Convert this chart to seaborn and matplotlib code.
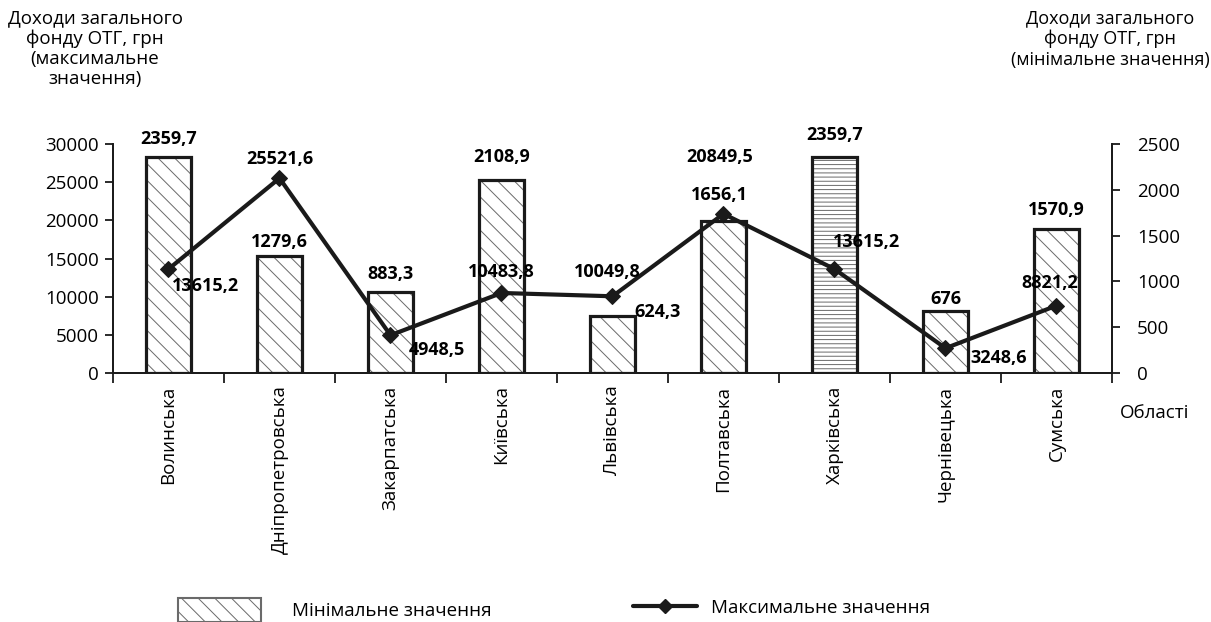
import numpy as np
import pandas as pd
import matplotlib
matplotlib.use("Agg")
import matplotlib.pyplot as plt
import seaborn as sns
from matplotlib.patches import Patch, Rectangle
from matplotlib.lines import Line2D

# ---- data ----
regions = ["Волинська", "Дніпропетровська", "Закарпатська", "Київська", "Львівська",
           "Полтавська", "Харківська", "Чернівецька", "Сумська"]
min_vals = [2359.7, 1279.6, 883.3, 2108.9, 624.3, 1656.1, 2359.7, 676, 1570.9]
max_vals = [13615.2, 25521.6, 4948.5, 10483.8, 10049.8, 20849.5, 13615.2, 3248.6, 8821.2]
min_labels = ["2359,7", "1279,6", "883,3", "2108,9", "624,3", "1656,1", "2359,7", "676", "1570,9"]
max_labels = ["13615,2", "25521,6", "4948,5", "10483,8", "10049,8", "20849,5", "13615,2", "3248,6", "8821,2"]
left_ticks = [0, 5000, 10000, 15000, 20000, 25000, 30000]
right_ticks = [0, 500, 1000, 1500, 2000, 2500]

sns.set_theme(style="white")
plt.rcParams['font.family'] = ['Open Sans', 'DejaVu Sans']
plt.rcParams['hatch.linewidth'] = 0.7
plt.rcParams['text.color'] = 'black'
plt.rcParams['xtick.color'] = 'black'
plt.rcParams['ytick.color'] = 'black'

FS = 13.5
BFS = 13
INK = "#1a1a1a"
HATCH = "#6a6a6a"
W, H = 1211, 622
fig = plt.figure(figsize=(W / 100, H / 100), dpi=100)
ax = fig.add_axes([113 / W, 1 - 373 / H, (1112 - 113) / W, (373 - 144) / H])

df = pd.DataFrame({"region": regions, "min": min_vals, "max": max_vals})

# bars (minimum values, right scale)
sns.barplot(data=df, x="region", y="min", ax=ax, color="white", edgecolor=HATCH,
            linewidth=0, width=0.41, saturation=1)
for i, p in enumerate(list(ax.patches)):
    p.set_facecolor("white")
    p.set_edgecolor(HATCH)
    p.set_linewidth(0)
    p.set_hatch("----" if i == 6 else "\\\\")
    ax.add_patch(Rectangle((p.get_x(), p.get_y()), p.get_width(), p.get_height(),
                           fill=False, edgecolor=INK, linewidth=2.3, zorder=p.get_zorder() + 0.1))

ax.set_xlim(-0.5, 8.5)
ax.set_ylim(0, 2500)
ax.set_xlabel("")
ax.set_ylabel("")
ax.set_xticks(range(len(regions)))
ax.set_xticklabels(regions, rotation=90, fontsize=FS, va="top", ha="center")
ax.set_xticks(np.arange(-0.5, len(regions), 1.0), minor=True)
ax.tick_params(axis="x", which="major", length=0, pad=9)
ax.tick_params(axis="x", which="minor", length=7, width=1.3, color=INK, direction="out", bottom=True)
ax.spines["top"].set_visible(False)
for s in ["left", "right", "bottom"]:
    ax.spines[s].set_color(INK)
    ax.spines[s].set_linewidth(1.3)

# line (maximum values, left scale)
ax2 = ax.twinx()
sns.lineplot(x=np.arange(len(regions)), y=max_vals, ax=ax2, color=INK, linewidth=3,
             marker="D", markersize=8.5, markeredgecolor=INK)
ax2.set_ylim(0, 30000)
ax2.set_xlim(-0.5, 8.5)
ax2.set_yticks(left_ticks)
ax2.yaxis.tick_left()
ax2.tick_params(axis="y", which="major", length=6, width=1.3, color=INK, direction="out",
                labelsize=FS, pad=4, left=True, right=False, labelleft=True, labelright=False)
ax2.spines["top"].set_visible(False)
for s in ["left", "right", "bottom"]:
    ax2.spines[s].set_color(INK)
    ax2.spines[s].set_linewidth(1.3)

# right axis ticks for the bars (after twinx, which resets them)
ax.set_yticks(right_ticks)
ax.yaxis.tick_right()
ax.tick_params(axis="y", which="major", length=6, width=1.3, color=INK, direction="out",
               labelsize=FS, pad=12, right=True, left=False, labelright=True, labelleft=False)

# value labels (offsets in pixels -> points)
px = 0.72
bar_off = [(0, 18), (0, 14), (0, 18), (0, 23), (45, 4), (-4, 26), (0, 22), (0, 12), (0, 19)]
for i, (v, t) in enumerate(zip(min_vals, min_labels)):
    dx, dy = bar_off[i]
    ax2.annotate(t, xy=(i, v * 12), xytext=(dx * px, dy * px), textcoords="offset points",
                 ha="center", va="center", fontsize=BFS, fontweight="bold", color="black")
line_off = [(37, -17), (0, 19), (46, -15), (0, 21), (-5, 24), (-4, 57), (32, 27), (53, -10), (-7, 23)]
for i, (v, t) in enumerate(zip(max_vals, max_labels)):
    dx, dy = line_off[i]
    ax2.annotate(t, xy=(i, v), xytext=(dx * px, dy * px), textcoords="offset points",
                 ha="center", va="center", fontsize=BFS, fontweight="bold", color="black")

# axis titles
fig.text(95 / W, 1 - 9 / H, "Доходи загального\nфонду ОТГ, грн\n(максимальне\nзначення)",
         ha="center", va="top", fontsize=FS, linespacing=1.15)
fig.text(1110 / W, 1 - 9 / H, "Доходи загального\nфонду ОТГ, грн\n(мінімальне значення)",
         ha="center", va="top", fontsize=13, linespacing=1.2)
fig.text(1155 / W, 1 - 413 / H, "Області", ha="center", va="center", fontsize=FS)

# legends
h1 = Patch(facecolor="white", edgecolor=INK, hatch="\\\\", linewidth=1.5)
leg1 = fig.legend(handles=[h1], labels=["Мінімальне значення"], loc="center left",
                  bbox_to_anchor=(178 / W, 1 - 610 / H), frameon=False, fontsize=FS,
                  handlelength=4.4, handleheight=1.6, handletextpad=1.7,
                  borderpad=0, borderaxespad=0)
for p in leg1.get_patches():
    p.set_edgecolor(HATCH)
h2 = Line2D([], [], color=INK, linewidth=3, marker="D", markersize=7)
leg2 = fig.legend(handles=[h2], labels=["Максимальне значення"], loc="center left",
                  bbox_to_anchor=(633 / W, 1 - 608 / H), frameon=False, fontsize=FS,
                  handlelength=3.4, handletextpad=0.75, borderpad=0, borderaxespad=0)

fig.savefig("out.png", dpi=100)
